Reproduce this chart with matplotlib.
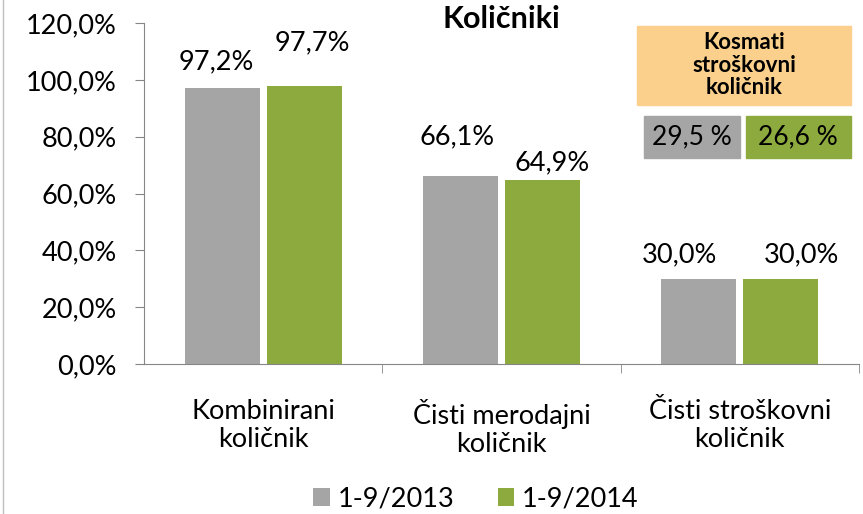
import numpy as np
import matplotlib.pyplot as plt
from matplotlib.patches import Rectangle
from matplotlib.lines import Line2D

categories = ['Kombinirani\nkoličnik', 'Čisti merodajni\nkoličnik', 'Čisti stroškovni\nkoličnik']
series_names = ['1-9/2013', '1-9/2014']
values_2013 = [97.2, 66.1, 30.0]
values_2014 = [97.7, 64.9, 30.0]
gross_cost_ratio = ['29,5 %', '26,6 %']

# label nudges in pixels (dx, dy above bar top), as placed in the original
nudge_2013 = [(-6, 26), (-3, 39), (-19, 24)]
nudge_2014 = [(8, 44), (10, 17), (21, 24)]

gray = '#A5A5A5'
green = '#8DAA3F'
orange = '#FAD08C'

plt.rcParams['font.family'] = ['Lato', 'DejaVu Sans']
fs = 19.5

fig = plt.figure(figsize=(8.63, 5.14), dpi=100)
ax = fig.add_axes([144 / 863, 150 / 514, 715 / 863, 341 / 514])

x = np.arange(len(categories))
w = 0.315
gap = 0.015
b1 = ax.bar(x - w / 2 - gap, values_2013, w, color=gray, label=series_names[0])
b2 = ax.bar(x + w / 2 + gap, values_2014, w, color=green, label=series_names[1])

for bars, vals, nudges in ((b1, values_2013, nudge_2013), (b2, values_2014, nudge_2014)):
    for b, v, (dx, dy) in zip(bars, vals, nudges):
        ax.annotate(f'{v:.1f}%'.replace('.', ','), (b.get_x() + b.get_width() / 2, v),
                    xytext=(dx, dy), textcoords='offset pixels',
                    ha='center', va='center', fontsize=fs)

ax.set_xlim(-0.5, 2.5)
ax.set_ylim(0, 120)
ax.set_yticks(np.arange(0, 121, 20))
ax.set_yticklabels([f'{t:.1f}%'.replace('.', ',') for t in np.arange(0, 121, 20)], fontsize=fs)
ax.set_xticks(x)
ax.set_xticklabels(categories, fontsize=fs, linespacing=1.15)
ax.tick_params(axis='x', length=0, pad=25)
ax.set_xticks([0.5, 1.5, 2.5], minor=True)
ax.tick_params(axis='x', which='minor', length=6.5, color='#868686')
ax.tick_params(axis='y', length=6.5, color='#868686', pad=13)
for s in ('top', 'right'):
    ax.spines[s].set_visible(False)
ax.spines['left'].set_color('#868686')
ax.spines['bottom'].set_color('#868686')

fig.text(501 / 863, 1 - 19 / 514, 'Količniki', ha='center', va='center',
         fontsize=22, fontweight='bold')

# gross cost ratio boxes
fig.patches.append(Rectangle((637 / 863, 1 - 105 / 514), 214 / 863, 79 / 514,
                             transform=fig.transFigure, color=orange))
fig.text(744 / 863, 1 - 65 / 514, 'Kosmati\nstroškovni\nkoličnik', ha='center', va='center',
         fontsize=16, fontweight='bold', linespacing=1.1)
fig.patches.append(Rectangle((644 / 863, 1 - 158 / 514), 96 / 863, 42 / 514,
                             transform=fig.transFigure, color=gray))
fig.patches.append(Rectangle((746 / 863, 1 - 158 / 514), 105 / 863, 42 / 514,
                             transform=fig.transFigure, color=green))
fig.text(692 / 863, 1 - 137 / 514, gross_cost_ratio[0], ha='center', va='center', fontsize=19)
fig.text(798 / 863, 1 - 137 / 514, gross_cost_ratio[1], ha='center', va='center', fontsize=19)

fig.legend(handles=[b1, b2], loc='center', bbox_to_anchor=(476 / 863, 1 - 499 / 514),
           ncol=2, frameon=False, fontsize=fs, handlelength=0.6, handleheight=0.6,
           handletextpad=0.3, columnspacing=1.6)

fig.lines.append(Line2D([3 / 863, 3 / 863], [0, 1], transform=fig.transFigure,
                        color='#BFBFBF', lw=1))

fig.savefig('out.png', dpi=100)
